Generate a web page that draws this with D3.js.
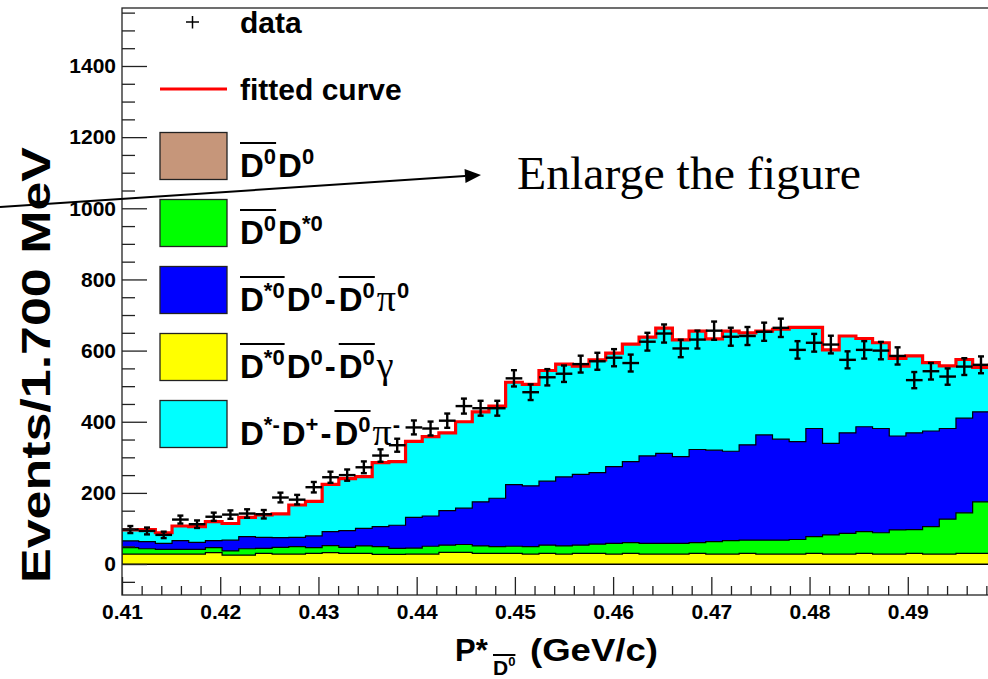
<!DOCTYPE html>
<html>
<head>
<meta charset="utf-8">
<script src="https://cdn.jsdelivr.net/npm/d3@7"></script>
<style>
  body { margin: 0; background: #fff; }
  svg { display: block; }
</style>
</head>
<body>
<svg id="chart" width="988" height="679"></svg>
<script>
// 53 bins of 1.7 MeV between 0.41 and 0.50 GeV/c
const binLow = 0.41, binHigh = 0.50, nBins = 53;

const dataCounts = [97,93,82,125,112,133,139,142,140,187, 181,216,244,250,272,305,334,384,381,403,
  444,438,438,522,483,525,535,562,570,580, 565,625,648,606,631,656,639,641,653,664,
  602,622,617,574,602,600,585,517,542,527, 555,560,555];

// fitted components (stacked)
const yellowPart = [28,28,28,28,28,32,25,25,30,28, 28,30,32,30,30,27,27,28,28,33,
  33,30,30,30,28,30,28,30,30,28, 30,28,28,28,30,28,28,30,28,28,
  28,30,28,28,30,28,28,30,28,28, 30,30,30];
const greenPart = [18,15,13,13,13,14,12,18,14,19, 21,16,20,17,21,22,17,17,22,20,
  22,21,19,20,21,23,23,23,26,30, 30,30,30,30,30,35,38,37,39,39,
  41,47,54,58,61,60,68,67,77,98, 114,145,150];
const bluePart = [19,20,17,25,20,20,30,34,31,27, 26,33,39,47,49,56,65,86,85,97,
  102,124,136,173,171,180,194,199,201,216, 228,246,253,244,262,257,251,268,296,284,
  275,304,257,283,295,293,264,272,269,255, 266,253,250];
const cyanPart = [31,34,30,41,44,53,47,54,63,67, 91,97,133,146,146,180,179,214,223,219,
  243,253,259,288,285,311,317,304,317,319, 330,334,352,328,333,313,338,315,292,309,
  321,284,263,272,248,241,218,216,192,176, 165,125,130];

const xTicks = [0.41, 0.42, 0.43, 0.44, 0.45, 0.46, 0.47, 0.48, 0.49];
const yTicks = [0, 200, 400, 600, 800, 1000, 1200, 1400];

const sans = '"Liberation Sans", Arial, Helvetica, sans-serif';
const serif = '"Liberation Serif", "Times New Roman", serif';

const svg = d3.select('#chart');
const x = d3.scaleLinear().domain([binLow, binHigh]).range([122, 1006]);
const y = d3.scaleLinear().domain([-87, 1563]).range([595, 8]);

const edges = d3.range(nBins + 1).map(i => binLow + i * (binHigh - binLow) / nBins);

svg.append('defs').append('clipPath').attr('id', 'clip')
  .append('rect').attr('x', 122).attr('y', 8).attr('width', 884).attr('height', 587);

const rows = dataCounts.map((d, i) => ({
  yellow: yellowPart[i], green: greenPart[i], blue: bluePart[i], cyan: cyanPart[i]
}));
const layers = d3.stack().keys(['yellow', 'green', 'blue', 'cyan'])(rows);
const colors = {yellow: '#ffff00', green: '#00ff00', blue: '#0000ff', cyan: '#00ffff'};

function steps(vals) {
  const pts = vals.map((v, i) => [edges[i], v]);
  pts.push([edges[nBins], vals[nBins - 1]]);
  return pts;
}

const area = d3.area()
  .x(d => x(d[0])).y0(y(0)).y1(d => y(d[1]))
  .curve(d3.curveStepAfter);

const plot = svg.append('g').attr('clip-path', 'url(#clip)');

// ROOT style: each cumulative histogram drawn from zero, top one first
layers.slice().reverse().forEach(layer => {
  plot.append('path')
    .datum(steps(layer.map(d => d[1])))
    .attr('d', area)
    .attr('fill', colors[layer.key])
    .attr('stroke', '#000')
    .attr('stroke-width', 1.2);
});

// fitted curve = total of the stack
const fitLine = d3.line().x(d => x(d[0])).y(d => y(d[1])).curve(d3.curveStepAfter);
plot.append('path')
  .datum(steps(layers[3].map(d => d[1])))
  .attr('d', fitLine)
  .attr('fill', 'none')
  .attr('stroke', '#ff0000')
  .attr('stroke-width', 3.2);

// data points with errors
const pts = plot.append('g').attr('stroke', '#000').attr('stroke-width', 2.4);
dataCounts.forEach((v, i) => {
  const err = Math.sqrt(v);
  const cx = x((edges[i] + edges[i + 1]) / 2);
  pts.append('line').attr('x1', x(edges[i])).attr('x2', x(edges[i + 1]))
    .attr('y1', y(v)).attr('y2', y(v));
  pts.append('line').attr('x1', cx).attr('x2', cx)
    .attr('y1', y(v - err)).attr('y2', y(v + err));
  [v - err, v + err].forEach(e => {
    pts.append('line').attr('x1', cx - 3).attr('x2', cx + 3)
      .attr('y1', y(e)).attr('y2', y(e));
  });
});

// frame
svg.append('rect').attr('x', 122).attr('y', 8).attr('width', 884).attr('height', 587)
  .attr('fill', 'none').attr('stroke', '#222').attr('stroke-width', 1.3);

// y axis ticks (inside) and labels
const yMinor = d3.range(-50, 1560, 50).filter(v => v % 200 !== 0);
svg.append('g').attr('transform', 'translate(122,0)')
  .call(d3.axisRight(y).tickValues(yTicks).tickSize(25).tickSizeOuter(0).tickFormat(''))
  .call(g => g.select('.domain').remove());
svg.append('g').attr('transform', 'translate(122,0)')
  .call(d3.axisRight(y).tickValues(yMinor).tickSize(13).tickSizeOuter(0).tickFormat(''))
  .call(g => g.select('.domain').remove());
svg.append('g').attr('transform', 'translate(122,0)')
  .call(d3.axisLeft(y).tickValues(yTicks).tickSize(0).tickPadding(6).tickFormat(d3.format('d')))
  .call(g => g.select('.domain').remove())
  .attr('font-size', 21).attr('font-family', sans).attr('font-weight', 'bold');

// x axis ticks (inside) and labels
const xMinor = d3.range(0, 46).map(i => 0.41 + i * 0.002).filter((v, i) => i % 5 !== 0);
svg.append('g').attr('transform', 'translate(0,595)')
  .call(d3.axisTop(x).tickValues(xTicks).tickSize(18).tickSizeOuter(0).tickFormat(''))
  .call(g => g.select('.domain').remove());
svg.append('g').attr('transform', 'translate(0,595)')
  .call(d3.axisTop(x).tickValues(xMinor).tickSize(9).tickSizeOuter(0).tickFormat(''))
  .call(g => g.select('.domain').remove());
svg.append('g').attr('transform', 'translate(0,595)')
  .call(d3.axisBottom(x).tickValues(xTicks).tickSize(0).tickPadding(9).tickFormat(d3.format('.2f')))
  .call(g => g.select('.domain').remove())
  .attr('font-size', 21).attr('font-family', sans).attr('font-weight', 'bold');
svg.selectAll('.tick line').attr('stroke', '#222').attr('stroke-width', 1.3);

// text made of pieces, with optional overline groups
function rich(g, x0, yb, parts, barY) {
  let cx = x0;
  const bars = {};
  parts.forEach(p => {
    const t = g.append('text')
      .attr('x', cx).attr('y', yb + (p.dy || 0))
      .attr('font-size', p.s)
      .attr('font-weight', p.w || 'bold')
      .attr('font-family', p.f || sans)
      .text(p.t);
    const w = t.node().getComputedTextLength();
    if (p.bar != null) {
      if (!bars[p.bar]) bars[p.bar] = {x0: cx, x1: cx + w};
      bars[p.bar].x1 = cx + w;
    }
    cx += w + (p.gap || 0);
  });
  Object.values(bars).forEach(b => {
    g.append('line').attr('x1', b.x0).attr('x2', b.x1)
      .attr('y1', yb - barY).attr('y2', yb - barY)
      .attr('stroke', '#000').attr('stroke-width', 2);
  });
}

// legend
const leg = svg.append('g');
const D = (bar) => ({t: 'D', s: 33, bar});
const sup = (t, bar) => ({t, s: 22, dy: -13, bar, gap: 2});
const dash = {t: '-', s: 33, gap: 3};
const greek = (t) => ({t, s: 38, w: 'normal', f: serif, gap: 1});

leg.append('g').attr('stroke', '#000').attr('stroke-width', 1.5)
  .call(g => {
    g.append('line').attr('x1', 186).attr('x2', 199).attr('y1', 22).attr('y2', 22);
    g.append('line').attr('x1', 192.5).attr('x2', 192.5).attr('y1', 16).attr('y2', 28.5);
  });
leg.append('text').attr('x', 240).attr('y', 33).attr('font-size', 30)
  .attr('font-weight', 'bold').attr('font-family', sans).text('data');

leg.append('line').attr('x1', 160).attr('x2', 227).attr('y1', 89).attr('y2', 89)
  .attr('stroke', '#ff0000').attr('stroke-width', 3);
leg.append('text').attr('x', 240).attr('y', 100).attr('font-size', 30)
  .attr('font-weight', 'bold').attr('font-family', sans).text('fitted curve');

const legendBoxes = [
  {c: '#c6967a', parts: [D(1), sup('0', 1), D(), sup('0')]},
  {c: '#00ff00', parts: [D(1), sup('0', 1), D(), sup('*0')]},
  {c: '#0000ff', parts: [D(1), sup('*0', 1), D(), sup('0'), dash, D(2), sup('0', 2), greek('π'), sup('0')]},
  {c: '#ffff00', parts: [D(1), sup('*0', 1), D(), sup('0'), dash, D(2), sup('0', 2), greek('γ')]},
  {c: '#00ffff', parts: [D(), sup('*-'), D(), sup('+'), dash, D(2), sup('0', 2), greek('π'), sup('-')]}
];
legendBoxes.forEach((e, k) => {
  const cy = 156 + 67 * k;
  leg.append('rect').attr('x', 160).attr('y', cy - 23.5).attr('width', 67).attr('height', 47)
    .attr('fill', e.c).attr('stroke', '#222').attr('stroke-width', 1.3);
  rich(leg, 240, cy + 21, e.parts, 34);
});

// axis titles
svg.append('text')
  .attr('transform', 'translate(50,365) rotate(-90)')
  .attr('text-anchor', 'middle')
  .attr('font-size', 40).attr('font-weight', 'bold').attr('font-family', sans)
  .attr('textLength', 436).attr('lengthAdjust', 'spacingAndGlyphs')
  .text('Events/1.700 MeV');

const xt = svg.append('g');
xt.append('text').attr('x', 455).attr('y', 661).attr('font-size', 31)
  .attr('font-weight', 'bold').attr('font-family', sans).text('P*');
rich(xt, 493, 675, [{t: 'D', s: 21, bar: 1}, {t: '0', s: 13, dy: -9, bar: 1}], 20);
xt.append('text').attr('x', 530).attr('y', 661).attr('font-size', 31)
  .attr('font-weight', 'bold').attr('font-family', sans)
  .attr('textLength', 128).attr('lengthAdjust', 'spacingAndGlyphs')
  .text('(GeV/c)');

// annotation with arrow
svg.append('text').attr('x', 517).attr('y', 189).attr('font-size', 47)
  .attr('font-family', serif)
  .attr('textLength', 344).attr('lengthAdjust', 'spacingAndGlyphs')
  .text('Enlarge the figure');

const a0 = [0, 207], tip = [481, 175];
const len = Math.hypot(tip[0] - a0[0], tip[1] - a0[1]);
const ux = (tip[0] - a0[0]) / len, uy = (tip[1] - a0[1]) / len;
const bx = tip[0] - 16 * ux, by = tip[1] - 16 * uy;
svg.append('line').attr('x1', a0[0]).attr('y1', a0[1]).attr('x2', bx).attr('y2', by)
  .attr('stroke', '#000').attr('stroke-width', 2);
svg.append('polygon')
  .attr('points', [[tip[0], tip[1]], [bx - 7 * uy, by + 7 * ux], [bx + 7 * uy, by - 7 * ux]].join(' '))
  .attr('fill', '#000');
</script>
</body>
</html>
